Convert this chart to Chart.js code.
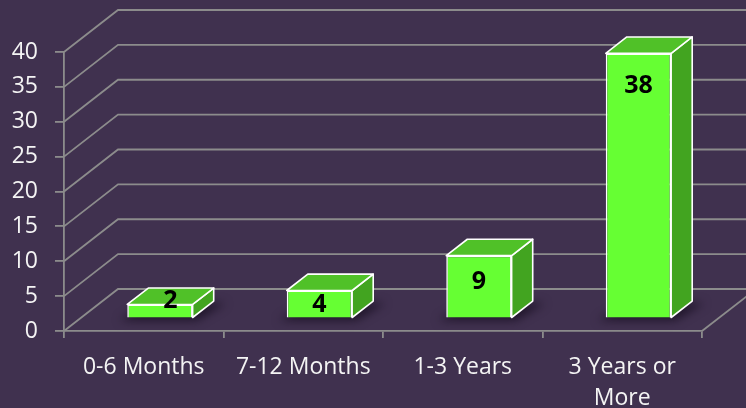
<!DOCTYPE html>
<html>
<head>
<meta charset="utf-8">
<script src="https://cdn.jsdelivr.net/npm/chart.js@4"></script>
<style>
  html, body { margin: 0; padding: 0; background: #40314f; }
  #wrap { width: 746px; height: 408px; }
</style>
</head>
<body>
<div id="wrap"><canvas id="chart" width="746" height="408"></canvas></div>
<script>
const categories = ["0-6 Months", "7-12 Months", "1-3 Years", ["3 Years or", "More"]];
const counts = [2, 4, 9, 38];
const yTicks = [0, 5, 10, 15, 20, 25, 30, 35, 40];

const BG = "#40314f";
const GRID = "#8c8c8c";
const TEXT = "#f4f4f4";
const FRONT = "#66ff33";
const TOP = "#50c128";
const SIDE = "#42a420";

// depth of the 3d plot box, and where the bars sit inside it
const DEPTH_X = 54, DEPTH_Y = 42;
const BAR_IN = 0.3, BAR_OUT = 0.69;

const box3d = {
    id: "box3d",
    beforeDraw(chart) {
        const ctx = chart.ctx;
        ctx.save();
        ctx.fillStyle = BG;
        ctx.fillRect(0, 0, chart.width, chart.height);
        ctx.restore();
    },
    beforeDatasetsDraw(chart) {
        const ctx = chart.ctx;
        const area = chart.chartArea;
        const y = chart.scales.y;

        // back wall grid + diagonals from the front axis
        ctx.save();
        ctx.strokeStyle = GRID;
        ctx.lineWidth = 1.8;
        yTicks.forEach(v => {
            const py = y.getPixelForValue(v);
            ctx.beginPath();
            ctx.moveTo(area.left, py);
            ctx.lineTo(area.left + DEPTH_X, py - DEPTH_Y);
            ctx.lineTo(chart.width + 20, py - DEPTH_Y);
            ctx.stroke();
        });
        // right floor edge
        ctx.beginPath();
        ctx.moveTo(area.right, area.bottom);
        ctx.lineTo(area.right + DEPTH_X, area.bottom - DEPTH_Y);
        ctx.stroke();
        ctx.restore();

        const sx = DEPTH_X * BAR_IN, sy = -DEPTH_Y * BAR_IN;
        const dx = DEPTH_X * (BAR_OUT - BAR_IN), dy = -DEPTH_Y * (BAR_OUT - BAR_IN);
        const meta = chart.getDatasetMeta(0);

        // soft shadows on the floor
        ctx.save();
        ctx.filter = "blur(5px)";
        ctx.fillStyle = "rgba(25,15,35,0.8)";
        meta.data.forEach(bar => {
            const x1 = bar.x - bar.width / 2 + sx, x2 = bar.x + bar.width / 2 + sx;
            const b = bar.base + sy;
            ctx.beginPath();
            ctx.moveTo(x1 - 8, b + 3);
            ctx.lineTo(x2 + 4, b + 3);
            ctx.lineTo(x2 + dx + 12, b + dy + 2);
            ctx.lineTo(x1 + dx, b + dy + 2);
            ctx.closePath();
            ctx.fill();
        });
        ctx.restore();

        // top and side faces
        ctx.save();
        ctx.strokeStyle = "#ffffff";
        ctx.lineWidth = 1.6;
        ctx.lineJoin = "round";
        meta.data.forEach(bar => {
            const x1 = bar.x - bar.width / 2 + sx, x2 = bar.x + bar.width / 2 + sx;
            const t = bar.y + sy, b = bar.base + sy;
            ctx.fillStyle = SIDE;
            ctx.beginPath();
            ctx.moveTo(x2, t);
            ctx.lineTo(x2 + dx, t + dy);
            ctx.lineTo(x2 + dx, b + dy);
            ctx.lineTo(x2, b);
            ctx.closePath();
            ctx.fill();
            ctx.stroke();
            ctx.fillStyle = TOP;
            ctx.beginPath();
            ctx.moveTo(x1, t);
            ctx.lineTo(x1 + dx, t + dy);
            ctx.lineTo(x2 + dx, t + dy);
            ctx.lineTo(x2, t);
            ctx.closePath();
            ctx.fill();
            ctx.stroke();
        });
        ctx.restore();

        // front faces are drawn by chart.js, pushed into the box
        ctx.save();
        ctx.translate(sx, sy);
    },
    afterDatasetsDraw(chart) {
        const ctx = chart.ctx;
        ctx.restore();

        const sx = DEPTH_X * BAR_IN, sy = -DEPTH_Y * BAR_IN;
        const dx = DEPTH_X * (BAR_OUT - BAR_IN);
        const meta = chart.getDatasetMeta(0);
        ctx.save();
        ctx.fillStyle = "#000000";
        ctx.font = "bold 25px 'Open Sans'";
        ctx.textAlign = "center";
        ctx.textBaseline = "middle";
        meta.data.forEach((bar, i) => {
            const h = bar.base - bar.y;
            let lx = bar.x + sx, ly = bar.y + sy + Math.min(33, Math.max(14, h * 0.43));
            if (h < 20) {
                lx += dx / 2;
                ly = bar.y + sy - 4;
            }
            ctx.fillText(String(counts[i]), lx, ly);
        });
        ctx.restore();
    }
};

new Chart(document.getElementById("chart"), {
    type: "bar",
    data: {
        labels: categories,
        datasets: [{
            data: counts,
            backgroundColor: FRONT,
            borderColor: "#ffffff",
            borderWidth: 1.6,
            barPercentage: 0.41,
            categoryPercentage: 1,
            clip: false
        }]
    },
    options: {
        responsive: false,
        devicePixelRatio: 1,
        animation: false,
        events: [],
        layout: { padding: { top: 52, right: 44, left: 0, bottom: 0 } },
        plugins: {
            legend: { display: false },
            tooltip: { enabled: false }
        },
        scales: {
            x: {
                offset: true,
                grid: { offset: true, drawOnChartArea: false, tickLength: 7, color: GRID, lineWidth: 1.8 },
                border: { color: GRID, width: 1.8 },
                ticks: {
                    color: TEXT,
                    font: { family: "'Open Sans'", size: 23, lineHeight: 1.35 },
                    padding: 14,
                    maxRotation: 0,
                    autoSkip: false
                },
                afterFit: s => { s.height = 77; }
            },
            y: {
                min: 0,
                max: 40,
                afterBuildTicks: s => { s.ticks = yTicks.map(v => ({ value: v })); },
                grid: { drawOnChartArea: false, tickLength: 9, color: GRID, lineWidth: 1.8 },
                border: { color: GRID, width: 1.8 },
                ticks: {
                    color: TEXT,
                    font: { family: "'Open Sans'", size: 23 },
                    padding: 17
                },
                afterFit: s => { s.width = 64; }
            }
        }
    },
    plugins: [box3d]
});
</script>
</body>
</html>
